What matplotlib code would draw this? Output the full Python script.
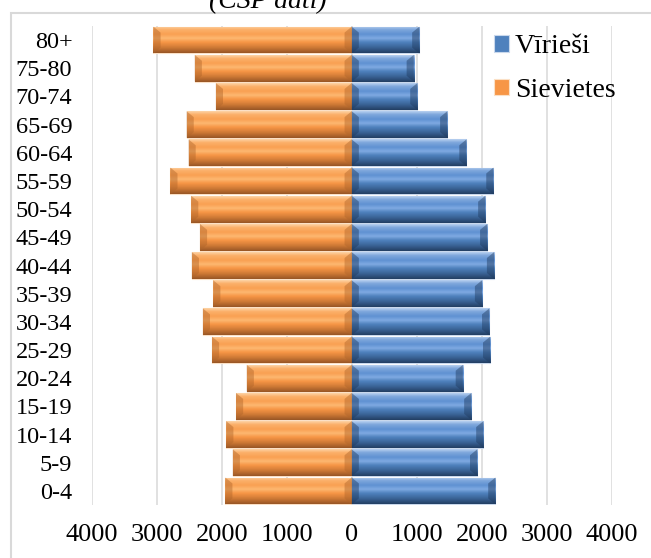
import numpy as np
import matplotlib.pyplot as plt
from matplotlib.colors import LinearSegmentedColormap
from matplotlib.patches import Rectangle

# age groups, bottom to top
age_groups = ['0-4', '5-9', '10-14', '15-19', '20-24', '25-29', '30-34', '35-39',
              '40-44', '45-49', '50-54', '55-59', '60-64', '65-69', '70-74', '75-80', '80+']
men = [2210, 1930, 2025, 1840, 1710, 2130, 2115, 2005, 2190, 2085, 2055, 2180,
       1765, 1470, 1010, 955, 1040]
women = [1945, 1830, 1930, 1780, 1615, 2150, 2290, 2130, 2460, 2335, 2470, 2790,
         2510, 2540, 2090, 2415, 3050]
x_ticks = [-4000, -3000, -2000, -1000, 0, 1000, 2000, 3000, 4000]
x_tick_labels = ['4000', '3000', '2000', '1000', '0', '1000', '2000', '3000', '4000']

plt.rcParams['font.family'] = ['Liberation Serif', 'DejaVu Serif']

W, H = 651, 558
fig = plt.figure(figsize=(W / 100, H / 100), dpi=100)
ax = fig.add_axes([91.7 / W, 1 - 505 / H, 520 / W, 479 / H])

orange_cmap = LinearSegmentedColormap.from_list('orange_bevel', [
    (0.0, '#FDD3A6'), (0.12, '#FBB06A'), (0.3, '#F9A052'), (0.45, '#FDB871'),
    (0.6, '#F79646'), (0.8, '#CF7A36'), (1.0, '#985626')])
blue_cmap = LinearSegmentedColormap.from_list('blue_bevel', [
    (0.0, '#B7D0F0'), (0.12, '#7EA7DC'), (0.3, '#5F91D2'), (0.45, '#7FAAE2'),
    (0.6, '#4F81BD'), (0.8, '#3A6396'), (1.0, '#233F63')])

y = np.arange(len(age_groups))
bar_h = 0.95
women_bars = ax.barh(y, [-v for v in women], height=bar_h, color='#F79646',
                     edgecolor='#FBE0C6', linewidth=0.8, zorder=3, label='Sievietes')
men_bars = ax.barh(y, men, height=bar_h, color='#4F81BD',
                   edgecolor='#C9D8EC', linewidth=0.8, zorder=3, label='Vīrieši')


def add_bevel(bars, cmap, end_color):
    grad = np.linspace(0, 1, 64).reshape(-1, 1)
    for bar in bars:
        x0, y0 = bar.get_x(), bar.get_y()
        w, h = bar.get_width(), bar.get_height()
        im = ax.imshow(grad, cmap=cmap, aspect='auto', origin='upper',
                       extent=(min(x0, x0 + w), max(x0, x0 + w), y0, y0 + h),
                       zorder=3.5, interpolation='bilinear')
        im.set_clip_path(bar)
        # angled bevel at both ends of the bar
        d = 110 * np.sign(w)
        b = 0.22 * h
        for end, step in ((x0 + w, -d), (x0, d)):
            ax.fill([end, end + step, end + step, end],
                    [y0 + h, y0 + h - b, y0 + b, y0],
                    color=end_color, alpha=0.45, lw=0, zorder=3.6)


add_bevel(women_bars, orange_cmap, '#B0652A')
add_bevel(men_bars, blue_cmap, '#1F3A5E')

ax.set_xlim(-4000, 4000)
ax.set_ylim(-0.5, len(age_groups) - 0.5)
ax.set_xticks(x_ticks)
ax.set_xticklabels(x_tick_labels, fontsize=19)
ax.set_yticks(y)
ax.set_yticklabels(age_groups, fontsize=17.5)
ax.tick_params(axis='both', length=0)
ax.tick_params(axis='x', pad=14)
ax.tick_params(axis='y', pad=14)
ax.grid(axis='x', color='#D9D9D9', linewidth=1.1, zorder=1)
ax.set_axisbelow(True)
for s in ax.spines.values():
    s.set_visible(False)

handles, labels = ax.get_legend_handles_labels()
leg = ax.legend(handles[::-1], labels[::-1], loc='upper left',
                bbox_to_anchor=(494 / W, 1 - 34 / H), bbox_transform=fig.transFigure,
                frameon=False, fontsize=20, handlelength=0.55, handleheight=0.55,
                handletextpad=0.2, labelspacing=0.68, borderpad=0, borderaxespad=0)

# partially visible title at the very top
fig.text(268 / W, 1 - 8 / H, '(CSP dati)', ha='center', va='baseline',
         fontsize=20, style='italic')

# chart border
fig.patches.append(Rectangle((11 / W, -0.1), 1.2, (H - 13) / H + 0.1,
                             transform=fig.transFigure, fill=False,
                             edgecolor='#D9D9D9', linewidth=1.5))

fig.savefig('out.png', dpi=100)
